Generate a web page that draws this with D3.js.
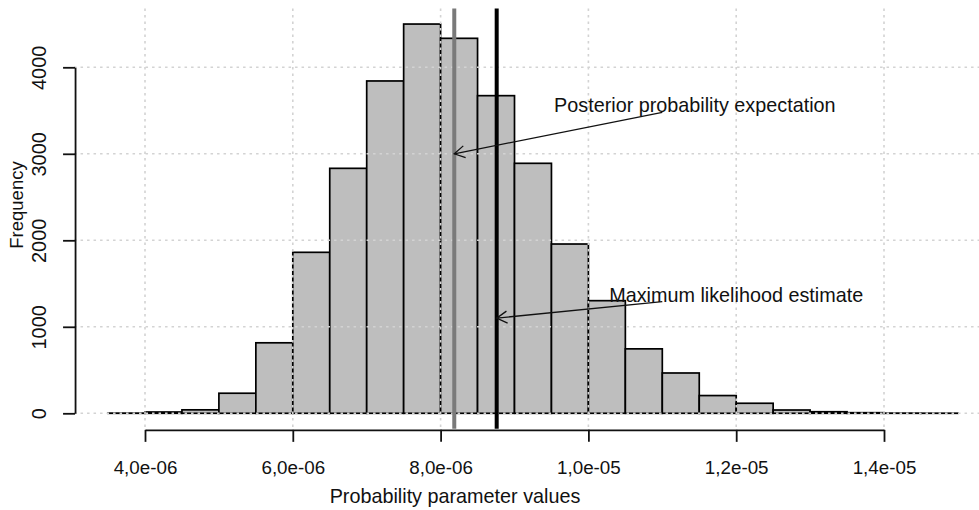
<!DOCTYPE html>
<html>
<head>
<meta charset="utf-8">
<script src="https://cdn.jsdelivr.net/npm/d3@7"></script>
<style>
  html, body { margin: 0; padding: 0; background: #fff; }
  svg { display: block; font-family: "Liberation Sans", Arial, sans-serif; }
</style>
</head>
<body>
<svg id="chart" width="979" height="510"></svg>
<script>
// Histogram of sampled probability parameter values
const breaks = [3.5e-6, 4.0e-6, 4.5e-6, 5.0e-6, 5.5e-6, 6.0e-6, 6.5e-6, 7.0e-6, 7.5e-6,
  8.0e-6, 8.5e-6, 9.0e-6, 9.5e-6, 1.0e-5, 1.05e-5, 1.1e-5, 1.15e-5, 1.2e-5, 1.25e-5,
  1.3e-5, 1.35e-5, 1.4e-5, 1.45e-5, 1.5e-5];
const counts = [2, 15, 40, 232, 815, 1861, 2832, 3842, 4500, 4335, 3672, 2890, 1957,
  1302, 745, 466, 205, 116, 38, 18, 7, 2, 1];

const xTicks = [4e-6, 6e-6, 8e-6, 1e-5, 1.2e-5, 1.4e-5];
const xTickLabels = ["4,0e-06", "6,0e-06", "8,0e-06", "1,0e-05", "1,2e-05", "1,4e-05"];
const yTicks = [0, 1000, 2000, 3000, 4000];

// Reference lines: posterior expectation (grey) and maximum likelihood estimate (black)
const posteriorMean = 8.185e-6;
const mle = 8.759e-6;

// Annotation labels, their anchor positions and the arrows pointing at the lines
const annotationLabels = ["Posterior probability expectation", "Maximum likelihood estimate"];
const annotationTextX = [1.144e-5, 1.2e-5];
const annotationTextY = [3487, 1290];
const arrowFrom = [[1.1e-5, 3480], [1.1e-5, 1290]];
const arrowTo = [[posteriorMean, 3000], [mle, 1100]];

const svg = d3.select("#chart");

const x = d3.scaleLinear().domain([4e-6, 1.4e-5]).range([145, 884]);
const y = d3.scaleLinear().domain([0, 4000]).range([413.3, 67.3]);

// plotting region (data range padded by 4%)
const xr = [breaks[0], breaks[breaks.length - 1]];
const xPad = (xr[1] - xr[0]) * 0.04;
const usrX = [xr[0] - xPad, xr[1] + xPad];
const yMax = d3.max(counts);
const usrY = [-yMax * 0.04, yMax * 1.04];

const bins = counts.map((c, i) => ({ x0: breaks[i], x1: breaks[i + 1], n: c }));

// bars
svg.append("g")
  .selectAll("rect")
  .data(bins)
  .join("rect")
  .attr("x", d => x(d.x0))
  .attr("y", d => y(d.n))
  .attr("width", d => x(d.x1) - x(d.x0))
  .attr("height", d => y(0) - y(d.n))
  .attr("fill", "#bebebe")
  .attr("stroke", "#000")
  .attr("stroke-width", 1.7);

// dotted grid drawn over the bars
const grid = svg.append("g")
  .attr("stroke", "#d3d3d3")
  .attr("stroke-width", 1.6)
  .attr("stroke-dasharray", "2.5,4");
grid.selectAll("line.v")
  .data(xTicks)
  .join("line")
  .attr("class", "v")
  .attr("x1", d => x(d)).attr("x2", d => x(d))
  .attr("y1", y(usrY[1])).attr("y2", y(usrY[0]));
grid.selectAll("line.h")
  .data(yTicks)
  .join("line")
  .attr("class", "h")
  .attr("x1", x(usrX[0])).attr("x2", x(usrX[1]))
  .attr("y1", d => y(d)).attr("y2", d => y(d));

// vertical reference lines
svg.append("line")
  .attr("x1", x(posteriorMean)).attr("x2", x(posteriorMean))
  .attr("y1", y(usrY[1])).attr("y2", y(usrY[0]))
  .attr("stroke", "#7a7a7a").attr("stroke-width", 4);
svg.append("line")
  .attr("x1", x(mle)).attr("x2", x(mle))
  .attr("y1", y(usrY[1])).attr("y2", y(usrY[0]))
  .attr("stroke", "#000").attr("stroke-width", 4);

// arrows with open heads
const arrows = svg.append("g").attr("stroke", "#111").attr("stroke-width", 1.3).attr("fill", "none");
arrowFrom.forEach((f, i) => {
  const t = arrowTo[i];
  const x0 = x(f[0]), y0 = y(f[1]), x1 = x(t[0]), y1 = y(t[1]);
  arrows.append("line").attr("x1", x0).attr("y1", y0).attr("x2", x1).attr("y2", y1);
  const ang = Math.atan2(y0 - y1, x0 - x1);
  const len = 12, spread = Math.PI / 6;
  arrows.append("path")
    .attr("d", `M${x1 + len * Math.cos(ang - spread)},${y1 + len * Math.sin(ang - spread)}` +
      `L${x1},${y1}L${x1 + len * Math.cos(ang + spread)},${y1 + len * Math.sin(ang + spread)}`);
});

// annotation texts
svg.append("g")
  .selectAll("text")
  .data(annotationLabels)
  .join("text")
  .attr("x", (d, i) => x(annotationTextX[i]))
  .attr("y", (d, i) => y(annotationTextY[i]))
  .attr("text-anchor", "middle")
  .attr("font-size", 19.8)
  .attr("fill", "#111")
  .text(d => d);

// x axis
const xAxis = svg.append("g")
  .attr("transform", `translate(0,${y(usrY[0]) + 1})`)
  .call(d3.axisBottom(x).tickValues(xTicks).tickFormat((d, i) => xTickLabels[i]).tickSize(12).tickSizeOuter(0).tickPadding(19));
xAxis.select(".domain").attr("stroke-width", 1.8).attr("stroke", "#111");
xAxis.selectAll(".tick line").attr("stroke-width", 1.8).attr("stroke", "#111");
xAxis.selectAll(".tick text").attr("font-size", 18.8).attr("fill", "#111")
  .attr("font-family", "Liberation Sans, Arial, sans-serif");

// y axis
const yAxis = svg.append("g")
  .attr("transform", `translate(${x(usrX[0]) + 1},0)`)
  .call(d3.axisLeft(y).tickValues(yTicks).tickFormat(d3.format("d")).tickSize(12).tickSizeOuter(0).tickPadding(0));
yAxis.select(".domain").attr("stroke-width", 1.8).attr("stroke", "#111");
yAxis.selectAll(".tick line").attr("stroke-width", 1.8).attr("stroke", "#111");
yAxis.selectAll(".tick text")
  .attr("font-size", 20)
  .attr("fill", "#111")
  .attr("font-family", "Liberation Sans, Arial, sans-serif")
  .attr("text-anchor", "middle")
  .attr("dy", null)
  .attr("x", null)
  .attr("transform", "translate(-29,0) rotate(-90)");

// axis titles
svg.append("text")
  .attr("x", 455).attr("y", 503)
  .attr("text-anchor", "middle")
  .attr("font-size", 19.8)
  .attr("fill", "#111")
  .text("Probability parameter values");
svg.append("text")
  .attr("transform", `translate(23,205) rotate(-90)`)
  .attr("text-anchor", "middle")
  .attr("font-size", 18.5)
  .attr("fill", "#111")
  .text("Frequency");
</script>
</body>
</html>
